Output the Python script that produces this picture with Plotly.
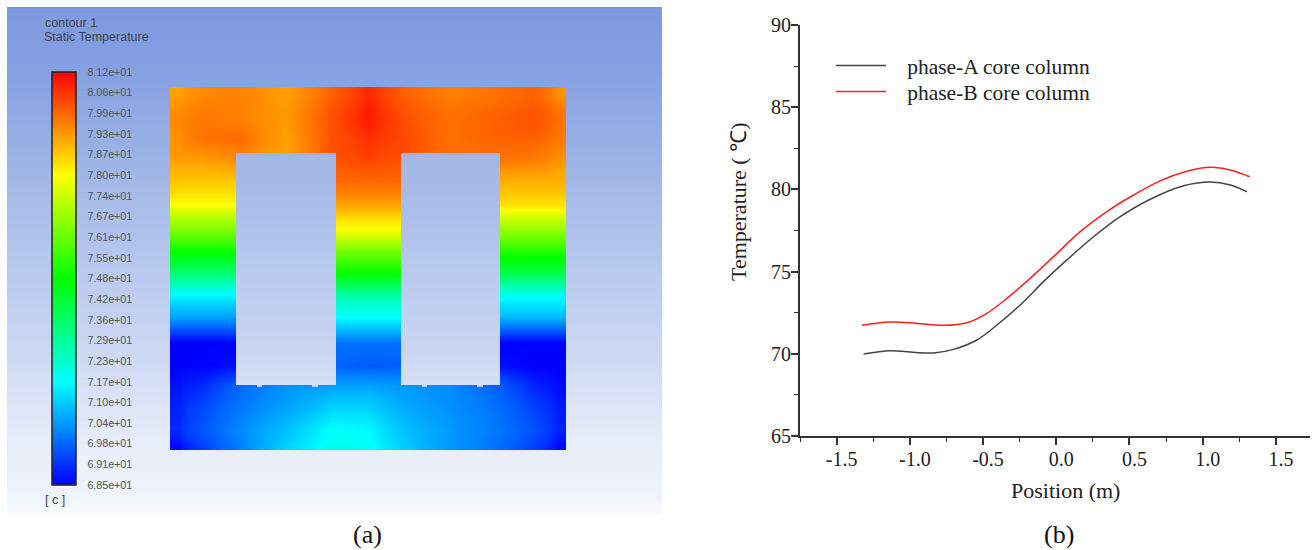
import plotly.graph_objects as go

# ---------- panel (b) data ----------
pos_a = [-1.316,-1.134,-0.975,-0.838,-0.701,-0.542,-0.405,-0.246,-0.087,0.073,0.255,0.437,0.642,0.870,1.052,1.189,1.302]
temp_a = [69.99,70.19,70.09,70.05,70.27,70.84,71.75,72.97,74.39,75.71,77.12,78.34,79.40,80.22,80.45,80.27,79.86]
pos_b = [-1.327,-1.134,-0.952,-0.770,-0.610,-0.474,-0.337,-0.178,-0.018,0.164,0.346,0.528,0.710,0.893,1.052,1.189,1.321]
temp_b = [71.73,71.93,71.85,71.73,71.89,72.46,73.37,74.59,75.91,77.43,78.65,79.66,80.52,81.10,81.34,81.18,80.77]
name_a = "\u00a0\u00a0\u00a0phase-A core column"
name_b = "\u00a0\u00a0\u00a0phase-B core column"

# ---------- panel (a) data ----------
cbar_ticks = [81.2,80.565,79.93,79.295,78.66,78.025,77.39,76.755,76.12,75.485,74.85,74.215,73.58,72.945,72.31,71.675,71.04,70.405,69.77,69.135,68.5]
cbar_labels = ["8.12e+01","8.06e+01","7.99e+01","7.93e+01","7.87e+01","7.80e+01","7.74e+01","7.67e+01","7.61e+01","7.55e+01",
               "7.48e+01","7.42e+01","7.36e+01","7.29e+01","7.23e+01","7.17e+01","7.10e+01","7.04e+01","6.98e+01","6.91e+01","6.85e+01"]
core_x = [170,203,236,286,336,368,401,450,500,533,566]
core_y = [87,120,140,153,185,202,228,253,272,295,312,347,365,385,405,430,450]
core_t = [
 [79.2,79.5,79.6,79.2,80.0,80.7,80.0,79.6,79.8,80.0,79.4],
 [79.5,79.7,79.6,79.3,80.2,80.9,80.2,79.8,80.0,80.2,79.8],
 [79.4,79.8,79.9,79.2,80.2,80.6,80.3,79.8,80.0,80.0,79.7],
 [79.3,79.3,79.5,79.2,80.2,80.4,80.2,79.8,79.8,79.7,79.4],
 [78.7,78.7,78.7,79.3,79.9,79.9,79.9,79.4,79.0,79.0,79.0],
 [78.03,78.03,78.03,78.6,79.2,79.2,79.2,78.8,78.4,78.4,78.4],
 [76.5,76.5,76.5,77.3,78.03,78.03,78.03,77.4,76.8,76.8,76.8],
 [74.85,74.85,74.85,75.5,76.2,76.2,76.2,75.7,75.2,75.2,75.2],
 [73.4,73.4,73.4,74.1,74.85,74.85,74.85,74.4,73.9,73.9,73.9],
 [71.68,71.68,71.68,72.3,72.9,72.9,72.9,72.4,71.9,71.9,71.9],
 [70.5,70.5,70.5,71.1,71.68,71.68,71.68,71.2,70.8,70.8,70.8],
 [68.5,68.5,68.5,69.2,69.9,69.9,69.9,69.2,68.5,68.5,68.5],
 [68.5,68.5,68.7,69.8,69.7,69.6,69.7,69.8,68.7,68.5,68.5],
 [68.7,69.0,69.8,70.3,70.5,70.5,70.4,70.2,69.7,68.9,68.6],
 [68.9,69.4,70.0,70.5,71.1,71.1,70.6,70.3,69.9,69.3,68.8],
 [69.0,69.6,70.2,70.9,71.7,71.6,70.9,70.4,70.0,69.5,68.9],
 [68.6,69.3,70.1,71.1,71.9,71.8,71.0,70.4,69.9,69.3,68.6],
]
window_x = [[236,286,336],[401,450,500]]
window_y = [153,155,250,350,383,385]
notch_x = [[257,262],[312,318],[422,427],[477,483]]
notch_y = [385,387]
panel_x = [7,330,662]
panel_y = [7,9,100,200,300,400,500,513,515]
panel_scale = [[0,"#7a96df"],[0.154,"#88a3e2"],[0.380,"#a8bce9"],[0.675,"#ccd8f3"],[0.872,"#e9eefa"],[1,"#fafbfe"]]
rainbow = [[0,"#0000ff"],[0.25,"#00ffff"],[0.5,"#00ff00"],[0.75,"#ffff00"],[1,"#ff0000"]]

def edges(nodes):
    mids = [(a+b)/2 for a, b in zip(nodes[:-1], nodes[1:])]
    return [nodes[0]] + mids + [nodes[-1]]

def centres(e):
    return [(a+b)/2 for a, b in zip(e[:-1], e[1:])]

def backdrop(xn, yn):
    c = centres(yn)
    return go.Heatmap(x=xn, y=yn, z=[[v]*(len(xn)-1) for v in c], zmin=panel_y[0], zmax=panel_y[-1],
                      colorscale=panel_scale, zsmooth="best", showscale=False, xaxis="x2", yaxis="y2", hoverinfo="skip")

fig = go.Figure()
W, H = 1312, 550

fig.add_trace(backdrop(panel_x, panel_y))
fig.add_trace(go.Heatmap(x=edges(core_x), y=edges(core_y), z=core_t, zmin=68.5, zmax=81.2, colorscale=rainbow, zsmooth="best",
    xaxis="x2", yaxis="y2",
    colorbar=dict(tickmode="array", tickvals=cbar_ticks, ticktext=cbar_labels, thickness=24, thicknessmode="pixels",
                  len=413, lenmode="pixels", x=52/W, xanchor="left", y=1-485/H, yanchor="bottom", xpad=0, ypad=0,
                  outlinecolor="#222222", outlinewidth=1.5, ticks="outside", ticklen=9, tickwidth=1, tickcolor="rgba(0,0,0,0)",
                  tickfont=dict(family="Liberation Sans", size=10.7, color="#555555"))))
for wx in window_x:
    fig.add_trace(backdrop(wx, window_y))

fig.add_trace(go.Scatter(x=pos_a, y=temp_a, name=name_a, mode="lines", legend="legend", showlegend=True,
    line=dict(color="#444444", width=1.5, shape="spline", smoothing=1.0)))
fig.add_trace(go.Scatter(x=pos_b, y=temp_b, name=name_b, mode="lines", legend="legend2", showlegend=True,
    line=dict(color="#ff2020", width=1.5, shape="spline", smoothing=1.0)))

serif = "Liberation Serif"
ink = "#222222"
axcommon = dict(showgrid=False, zeroline=False, showline=True, linecolor="#333333", linewidth=2, ticks="outside",
                ticklen=7, tickwidth=1.5, tickcolor="#333333", tickfont=dict(family=serif, size=20, color=ink))
notches = [dict(type="rect", xref="x2", yref="y2", x0=n[0], x1=n[1], y0=notch_y[0], y1=notch_y[1],
                fillcolor="#c8d6f2", line_width=0) for n in notch_x]
sans = dict(family="Liberation Sans", size=12.5, color="#444444")
legend_style = dict(xanchor="left", yanchor="top", bgcolor="rgba(0,0,0,0)", itemwidth=50,
                    font=dict(family=serif, size=21.5, color=ink), itemclick=False)
caption_font = dict(family=serif, size=26, color="#111111")
title_font = dict(family=serif, size=22, color=ink)
fig.update_layout(
    width=W, height=H, margin=dict(l=0, r=0, t=0, b=0, autoexpand=False), paper_bgcolor="white", plot_bgcolor="white",
    font=dict(family=serif, color=ink), showlegend=True,
    xaxis=dict(domain=[800/W, 1310/W], range=[-1.75, 1.733], tickvals=[-1.5,-1,-0.5,0,0.5,1,1.5],
               ticktext=["-1.5","-1.0","-0.5","0.0","0.5","1.0","1.5"], anchor="y", ticklabelstandoff=-3, ticklabelshift=5,
               minor=dict(tickvals=[-1.75,-1.25,-0.75,-0.25,0.25,0.75,1.25], ticks="outside", ticklen=4, tickwidth=1.2, tickcolor="#333333"),
               **axcommon),
    yaxis=dict(domain=[1-436/H, 1-25/H], range=[65, 90], tickvals=[65,70,75,80,85,90], anchor="x", ticklabelstandoff=-4,
               minor=dict(tickvals=[67.5,72.5,77.5,82.5,87.5], ticks="outside", ticklen=4, tickwidth=1.2, tickcolor="#333333"),
               **axcommon),
    xaxis2=dict(domain=[7/W, 662/W], range=[7, 662], visible=False, anchor="y2"),
    yaxis2=dict(domain=[1-515/H, 1-7/H], range=[515, 7], visible=False, anchor="x2"),
    shapes=notches,
    legend=dict(x=831/W, y=1-45/H, **legend_style),
    legend2=dict(x=831/W, y=1-71/H, **legend_style),
    annotations=[
        dict(text="Position (m)", x=1065/W, y=1-490/H, xref="paper", yref="paper", showarrow=False, xanchor="center", yanchor="middle", font=title_font),
        dict(text="Temperature ( ℃)", x=739/W, y=1-202/H, xref="paper", yref="paper", showarrow=False, xanchor="center", yanchor="middle", textangle=-90, font=title_font),
        dict(text="contour 1", x=43/W, y=1-23/H, xref="paper", yref="paper", showarrow=False, xanchor="left", yanchor="middle", font=sans),
        dict(text="Static Temperature", x=42/W, y=1-37/H, xref="paper", yref="paper", showarrow=False, xanchor="left", yanchor="middle", font=sans),
        dict(text="[ c ]", x=43/W, y=1-500/H, xref="paper", yref="paper", showarrow=False, xanchor="left", yanchor="middle", font=sans),
        dict(text="(a)", x=367/W, y=1-534/H, xref="paper", yref="paper", showarrow=False, xanchor="center", yanchor="middle", font=caption_font),
        dict(text="(b)", x=1059/W, y=1-534/H, xref="paper", yref="paper", showarrow=False, xanchor="center", yanchor="middle", font=caption_font),
    ],
)
fig.write_html("out.html", config={"displayModeBar": False}, post_script="document.body.style.margin='0';")
